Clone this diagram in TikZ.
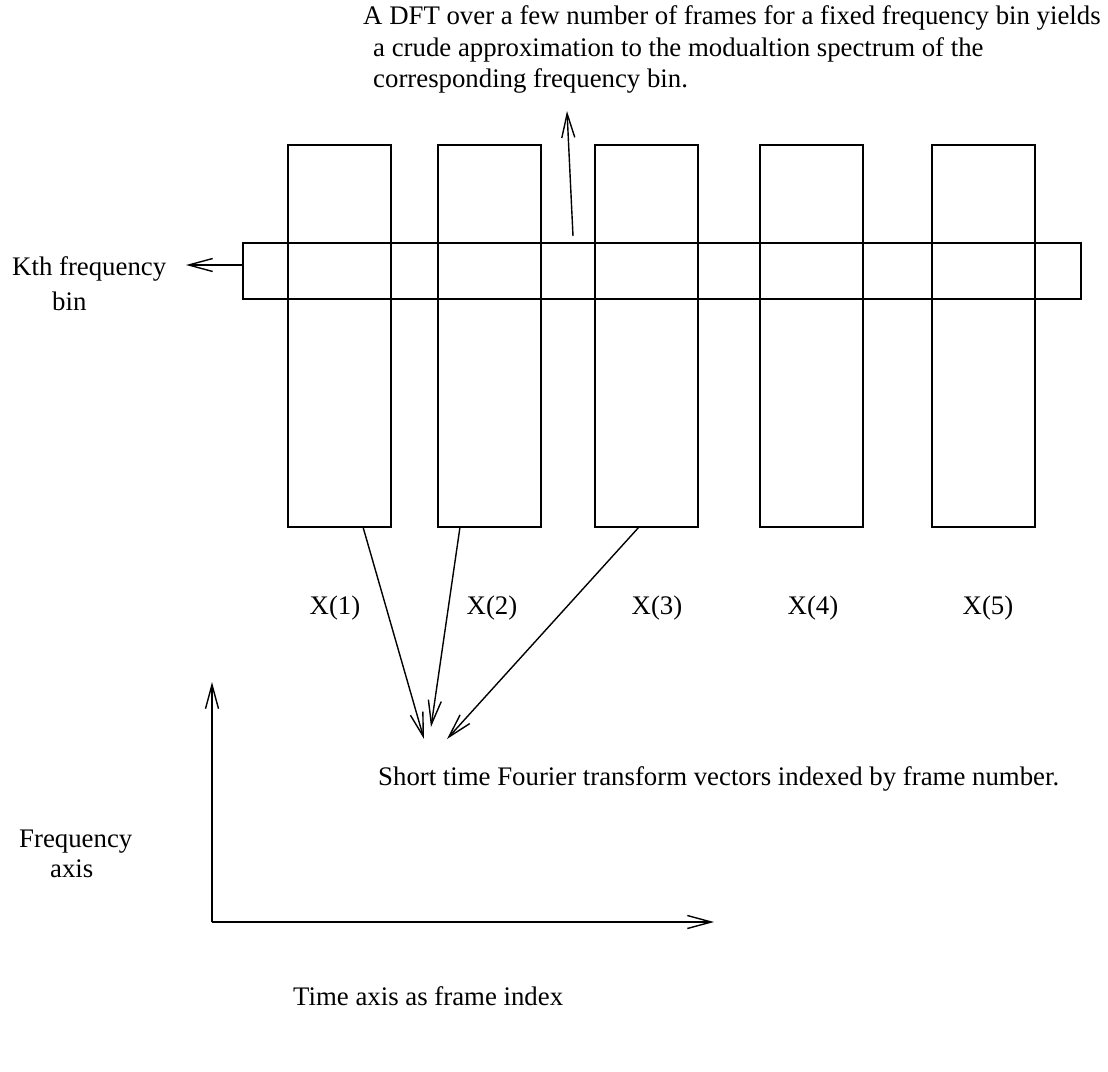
\documentclass[tikz,border=0pt]{standalone}
\usepackage{fontspec}
\setmainfont{Liberation Serif}
\usetikzlibrary{arrows.meta}
\begin{document}
\begin{tikzpicture}[x=1pt,y=-1pt,
  every node/.style={font=\fontsize{26.8}{32}\selectfont},
  box/.style={draw,line width=1.4pt},
  arr/.style={draw,line width=1.4pt,-{Straight Barb[length=24pt,width=13pt,line width=1.4pt]}},
  lbl/.style={inner sep=0pt,anchor=base west},
  clbl/.style={inner sep=0pt,anchor=base}]
\useasboundingbox (0,0) rectangle (1108,1071);
% frame vectors
\draw[box] (288,145) rectangle (391,527);
\draw[box] (438,145) rectangle (541,527);
\draw[box] (595,145) rectangle (698,527);
\draw[box] (760,145) rectangle (863,527);
\draw[box] (932,145) rectangle (1035,527);
% frequency bin band
\draw[box] (243,243) rectangle (1081,299);
\coordinate (b1) at (363,527);
\coordinate (b2) at (460,527);
\coordinate (b3) at (639,527);
\coordinate (kstart) at (243,265);
\coordinate (kend) at (186,265);
\coordinate (dstart) at (573,236);
\coordinate (dend) at (567,111);
\coordinate (t1) at (424,739);
\coordinate (t2) at (431,727);
\coordinate (t3) at (447,739);
\coordinate (o) at (212,922);
\coordinate (yend) at (212,682);
\coordinate (xend) at (714,922);
% texts
\node[lbl] (dft1) at (363,24) {A DFT over a few number of frames for a fixed frequency bin yields};
\node[lbl] (dft2) at (373,56) {a crude approximation to the modualtion spectrum of the};
\node[lbl] (dft3) at (373,87) {corresponding frequency bin.};
\node[lbl] (k1) at (12,275) {Kth frequency};
\node[lbl] (k2) at (52,310) {bin};
\node[clbl] (x1) at (335,614) {X(1)};
\node[clbl] (x2) at (492,614) {X(2)};
\node[clbl] (x3) at (657,614) {X(3)};
\node[clbl] (x4) at (813,614) {X(4)};
\node[clbl] (x5) at (988,614) {X(5)};
\node[lbl] (st) at (378,785) {Short time Fourier transform vectors indexed by frame number.};
\node[lbl] (fa1) at (19,847) {Frequency};
\node[lbl] (fa2) at (50,877) {axis};
\node[lbl] (ta) at (293,1005) {Time axis as frame index};
% connectors
\draw[arr] (kstart) -- (kend);
\draw[arr] (dstart) -- (dend);
\draw[arr] (b1) -- (t1);
\draw[arr] (b2) -- (t2);
\draw[arr] (b3) -- (t3);
\draw[arr] (o) -- (yend);
\draw[arr] (o) -- (xend);
\end{tikzpicture}
\end{document}
